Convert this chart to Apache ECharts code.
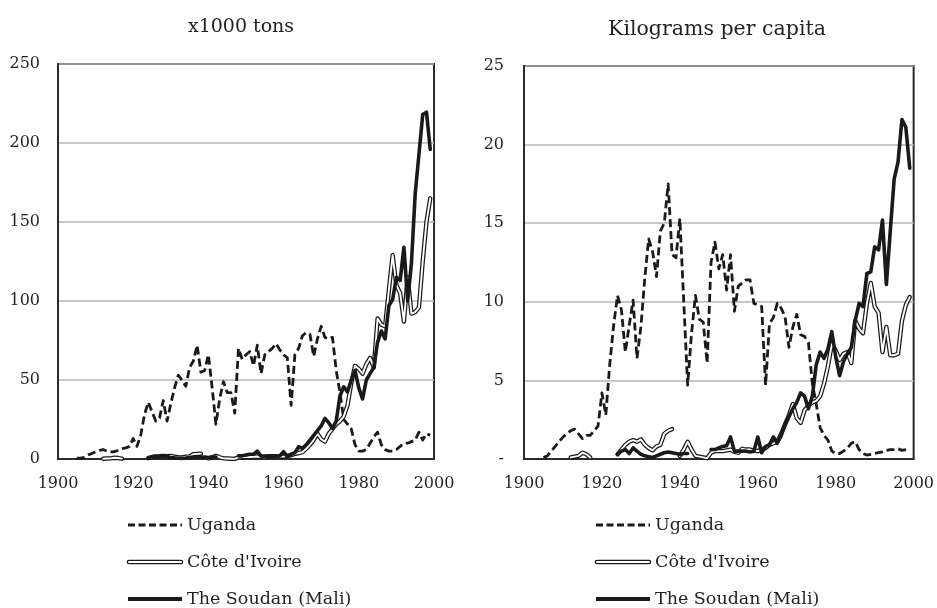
<!DOCTYPE html>
<html>
<head>
<meta charset="utf-8">
<script src="https://cdn.jsdelivr.net/npm/echarts@6/dist/echarts.min.js"></script>
<style>
html,body{margin:0;padding:0;background:#fff;}
#chart{width:937px;height:608px;}
</style>
</head>
<body>
<div id="chart"></div>
<script>
// ---------- DATA (annual values, first year = 1905) ----------
const startYear = 1905;
const seriesNames = ['Uganda', "Côte d'Ivoire", 'The Soudan (Mali)'];
const panelTitles = ['x1000 tons', 'Kilograms per capita'];
const xTicks = [1900, 1920, 1940, 1960, 1980, 2000];
const yTicksTons = [0, 50, 100, 150, 200, 250];
const yTicksKg = [0, 5, 10, 15, 20, 25];

// x1000 tons
const ugandaTons = [
  0.5, 0.5, 1, 2.5, 3.5,
  4.5, 5.5, 6, 5, 4.5,
  4.6, 5.5, 6.5, 7, 8,
  13, 8, 15, 28, 36,
  30, 24, 26, 37, 24,
  35, 45, 53, 50, 46,
  58, 62, 72, 55, 56,
  66, 45, 22, 38, 49,
  42, 42, 29, 70, 63,
  66, 68, 59, 72, 54,
  66, 68, 70, 73, 69,
  66, 64, 34, 66, 70,
  78, 80, 79, 65, 76,
  84, 77, 76, 77, 56,
  42, 25, 22, 19, 9,
  5, 5, 6, 10, 14,
  17, 9, 6, 5, 5,
  6, 8, 10, 10, 11,
  12, 17, 12, 16, 15
];
const coteTons = [
  null, null, null, null, null,
  null, null, 0.2, 0.3, 0.4,
  0.8, 0.6, 0.2, null, null,
  null, null, null, null, 0.5,
  1, 1.5, 1.8, 2, 1.8,
  2, 1.5, 1.2, 1, 1.4,
  1.6, 3, 3.2, 3.4, null,
  0.4, 1.1, 2, 1.1, 0.4,
  0.3, 0.2, 0.1, 1, 1.2,
  1.2, 1.3, 1.4, 1.6, 1.2,
  1.1, 1.8, 1.7, 1.7, 1.6,
  1.5, 2, 2.4, 3.2, 3.8,
  4.3, 6.5, 9, 12, 16,
  12.5, 11, 16, 19, 22,
  24, 27, 34, 48, 59,
  57, 54, 60, 64, 58,
  89, 85, 84, 107, 129,
  110, 105, 87, 115, 92,
  93, 96, 125, 150, 165
];
const maliTons = [
  null, null, null, null, null,
  null, null, null, null, null,
  null, null, null, null, null,
  null, null, null, null, 0.8,
  1.5, 1.8, 1.2, 2, 1.5,
  1, 0.7, 0.5, 0.4, 0.6,
  1, 1.3, 1.5, 1.3, 1.2,
  1, 1.2, 1.2, null, null,
  null, null, null, 2, 2,
  2.5, 3, 3, 5, 1.8,
  1.8, 1.8, 1.8, 1.7, 2,
  4.6, 1.5, 3, 4, 7.8,
  6.7, 9, 12, 15, 18,
  21, 25.7, 23, 19.4, 24,
  40, 45.7, 42.5, 50, 56,
  45, 38, 50, 54, 58,
  74, 81, 76, 97, 101,
  115, 113, 134, 100, 124,
  168, 193, 218, 219.5, 196
];

// kilograms per capita
const ugandaKg = [
  0.1, 0.2, 0.5, 0.8, 1.1,
  1.4, 1.6, 1.8, 1.9, 1.6,
  1.3, 1.5, 1.5, 1.8, 2.1,
  4.2, 2.8, 6, 8.5, 10.4,
  9.5, 6.8, 8.5, 10.1, 6.4,
  8.4, 11.5, 14, 13.2, 11.6,
  14.5, 15, 17.5, 13, 12.8,
  15.3, 10, 4.7, 8, 10.4,
  8.9, 8.7, 6.1, 12.5, 13.8,
  12.1, 13, 10.75, 13, 9.4,
  11, 11.2, 11.4, 11.4, 9.9,
  9.8, 9.7, 4.7, 8.6, 9,
  9.9, 9.6, 9.05, 7.1, 8.4,
  9.2, 7.9, 7.8, 7.4, 4.8,
  3.5, 2, 1.5, 1.2, 0.5,
  0.35, 0.35, 0.5, 0.7, 1,
  1.1, 0.6, 0.35, 0.25, 0.3,
  0.35, 0.4, 0.45, 0.55, 0.6,
  0.6, 0.65, 0.55, 0.6, 0.65
];
const coteKg = [
  null, null, null, null, null,
  null, null, 0.1, 0.15, 0.2,
  0.4, 0.3, 0.1, null, null,
  null, null, null, null, 0.3,
  0.6, 0.9, 1.1, 1.2, 1.1,
  1.25, 0.9, 0.7, 0.55, 0.8,
  0.9, 1.6, 1.8, 1.9, null,
  0.2, 0.6, 1.1, 0.6, 0.2,
  0.15, 0.1, 0.05, 0.4, 0.5,
  0.5, 0.5, 0.55, 0.6, 0.45,
  0.4, 0.65, 0.6, 0.6, 0.55,
  0.5, 0.6, 0.7, 0.9, 1,
  1.1, 1.6, 2.2, 2.8, 3.5,
  2.6, 2.3, 3.1, 3.4, 3.6,
  3.7, 4, 4.8, 5.9, 7.3,
  6.9, 6.3, 6.7, 6.8, 6.1,
  8.8, 8.3, 8, 9.9, 11.2,
  9.7, 9.3, 6.8, 8.4, 6.6,
  6.6, 6.7, 8.8, 9.8, 10.3
];
const maliKg = [
  null, null, null, null, null,
  null, null, null, null, null,
  null, null, null, null, null,
  null, null, null, null, 0.3,
  0.5, 0.6, 0.35, 0.7, 0.5,
  0.3, 0.2, 0.15, 0.1, 0.2,
  0.3, 0.4, 0.45, 0.4, 0.35,
  0.3, 0.35, 0.35, null, null,
  null, null, null, 0.6, 0.6,
  0.7, 0.8, 0.85, 1.4, 0.5,
  0.5, 0.5, 0.5, 0.45, 0.5,
  1.4, 0.4, 0.8, 0.9, 1.4,
  1, 1.5, 2.2, 2.7, 3.2,
  3.6, 4.2, 4, 3.2, 4,
  6, 6.8, 6.4, 7, 8.1,
  6.5, 5.3, 6.2, 6.7, 7.1,
  8.8, 9.9, 9.7, 11.8, 11.9,
  13.5, 13.3, 15.2, 11.1, 14.5,
  17.8, 18.9, 21.6, 21.1, 18.5
];

// ---------- CHART ----------
const FONT = 'DejaVu Serif';
const TXT = '#231f20';
const INK = '#1a1a1a';

function pairs(vals) { return vals.map((v, i) => [startYear + i, v]); }

function panelSeries(idx, u, c, m) {
  const base = { type: 'line', xAxisIndex: idx, yAxisIndex: idx, symbol: 'none', showSymbol: false, animation: false, silent: true };
  return [
    Object.assign({}, base, { name: seriesNames[0], data: pairs(u), z: 2,
      lineStyle: { color: INK, width: 2.8, type: [8, 4], join: 'round' } }),
    Object.assign({}, base, { name: seriesNames[1], data: pairs(c), z: 3,
      lineStyle: { color: INK, width: 4.4, join: 'round', cap: 'round' } }),
    Object.assign({}, base, { name: seriesNames[1] + ' (inner)', data: pairs(c), z: 4,
      lineStyle: { color: '#ffffff', width: 1.9, join: 'round', cap: 'round' } }),
    Object.assign({}, base, { name: seriesNames[2], data: pairs(m), z: 5,
      lineStyle: { color: INK, width: 3.6, join: 'round', cap: 'round' } })
  ];
}

function xAxis(idx) {
  return {
    type: 'value', gridIndex: idx, min: xTicks[0], max: xTicks[xTicks.length - 1],
    interval: xTicks[1] - xTicks[0],
    axisLine: { show: true, lineStyle: { color: '#2b2b2b', width: 2 } },
    axisTick: { show: false }, splitLine: { show: false },
    axisLabel: { color: TXT, fontFamily: FONT, fontSize: 16, margin: 17,
      formatter: v => String(v) }
  };
}
function yAxis(idx, ticks, zeroLabel) {
  return {
    type: 'value', gridIndex: idx, min: ticks[0], max: ticks[ticks.length - 1],
    interval: ticks[1] - ticks[0],
    axisLine: { show: true, lineStyle: { color: '#2b2b2b', width: 2 } },
    axisTick: { show: false },
    splitLine: { show: true, lineStyle: { color: '#b5b5b5', width: 1.6 } },
    axisLabel: { color: TXT, fontFamily: FONT, fontSize: 16, margin: idx === 0 ? 18 : 20,
      formatter: v => (v === 0 ? zeroLabel : String(v)) }
  };
}

// legend drawn as graphic (swatch + text)
function legendGraphic(x0, rows) {
  const els = [];
  const len = 54;
  rows.forEach((y, i) => {
    if (i === 0) {
      els.push({ type: 'line', shape: { x1: x0, y1: y, x2: x0 + len, y2: y },
        style: { stroke: INK, lineWidth: 2.8, lineDash: [7, 3.5] } });
    } else if (i === 1) {
      els.push({ type: 'line', shape: { x1: x0 + 1, y1: y, x2: x0 + len - 1, y2: y },
        style: { stroke: INK, lineWidth: 4.6, lineCap: 'round' } });
      els.push({ type: 'line', shape: { x1: x0 + 1, y1: y, x2: x0 + len - 1, y2: y },
        style: { stroke: '#ffffff', lineWidth: 2, lineCap: 'round' }, z: 101 });
    } else {
      els.push({ type: 'line', shape: { x1: x0, y1: y, x2: x0 + len, y2: y },
        style: { stroke: INK, lineWidth: 3.8 } });
    }
    els.push({ type: 'text', x: x0 + len + 5, y: y,
      style: { text: seriesNames[i], fill: TXT, font: '17.5px "DejaVu Serif"', textVerticalAlign: 'middle', verticalAlign: 'middle' } });
  });
  return els;
}

const chart = echarts.init(document.getElementById('chart'), null, { renderer: 'canvas' });
chart.setOption({
  animation: false,
  backgroundColor: '#ffffff',
  title: [
    { text: panelTitles[0], left: 236, top: 13, textAlign: 'center',
      textStyle: { fontFamily: FONT, fontWeight: 'normal', fontSize: 19, color: TXT } },
    { text: panelTitles[1], left: 712, top: 14, textAlign: 'center',
      textStyle: { fontFamily: FONT, fontWeight: 'normal', fontSize: 20.5, color: TXT } }
  ],
  grid: [
    { left: 58, top: 64, width: 376, height: 395, show: true, borderColor: '#2b2b2b', borderWidth: 2, backgroundColor: 'transparent' },
    { left: 524, top: 66, width: 392, height: 393, show: true, borderColor: '#2b2b2b', borderWidth: 2, backgroundColor: 'transparent' }
  ],
  xAxis: [xAxis(0), xAxis(1)],
  yAxis: [yAxis(0, yTicksTons, '0'), yAxis(1, yTicksKg, '-')],
  series: panelSeries(0, ugandaTons, coteTons, maliTons)
    .concat(panelSeries(1, ugandaKg, coteKg, maliKg)),
  graphic: legendGraphic(128, [525, 562, 599]).concat(legendGraphic(596, [525, 562, 599]))
});
</script>
</body>
</html>
